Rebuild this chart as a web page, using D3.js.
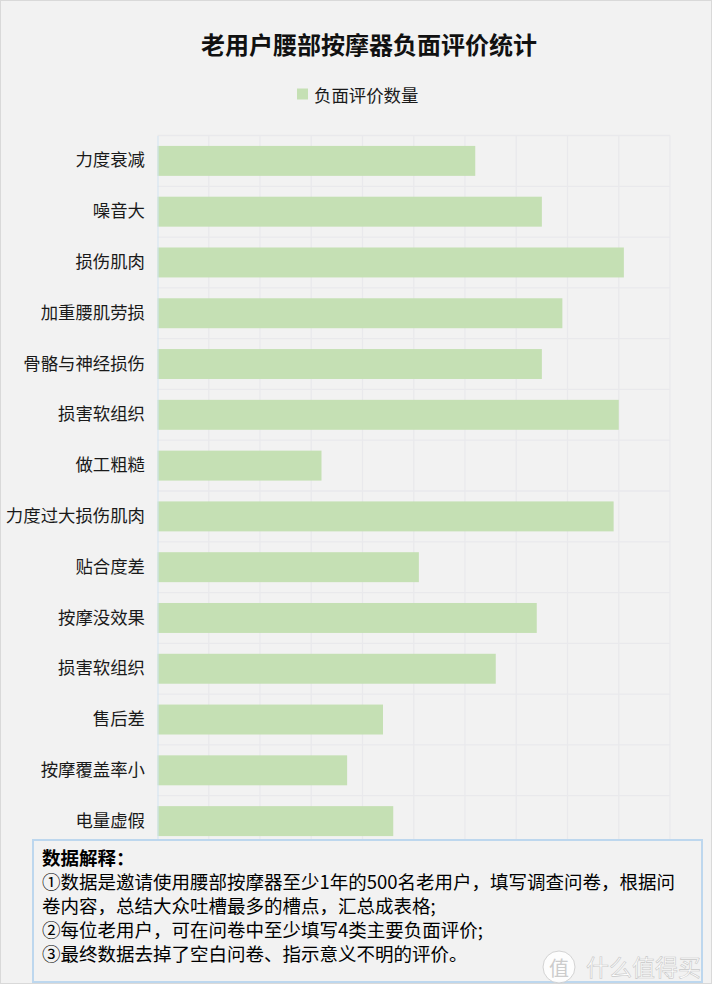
<!DOCTYPE html>
<html lang="zh">
<head>
  <meta charset="UTF-8">
  <title>老用户腰部按摩器负面评价统计</title>
  <style>
    html, body {
      margin: 0;
      padding: 0;
      overflow: hidden;
      width: 100%;
      height: 100%;
      background: #fff;
    }
    svg {
      position: absolute;
      top: 0;
      left: 0;
      font-family: "Noto Sans CJK SC", "Noto Sans", sans-serif;
    }
  </style>
</head>
<body>
  <svg width="713" height="992"></svg>
</body>
<script src="https://d3js.org/d3.v7.min.js"></script>
<script type="text/javascript">
  const categories = ['力度衰减', '噪音大', '损伤肌肉', '加重腰肌劳损', '骨骼与神经损伤', '损害软组织',
    '做工粗糙', '力度过大损伤肌肉', '贴合度差', '按摩没效果', '损害软组织', '售后差', '按摩覆盖率小', '电量虚假']
  const counts = [310, 375, 455, 395, 375, 450, 160, 445, 255, 370, 330, 220, 185, 230]
  const xTicks = [0, 50, 100, 150, 200, 250, 300, 350, 400, 450, 500]
  const seriesName = '负面评价数量'
  const title = '老用户腰部按摩器负面评价统计'
  const notes = [
    '数据解释：',
    '①数据是邀请使用腰部按摩器至少1年的500名老用户，填写调查问卷，根据问',
    '卷内容，总结大众吐槽最多的槽点，汇总成表格;',
    '②每位老用户，可在问卷中至少填写4类主要负面评价;',
    '③最终数据去掉了空白问卷、指示意义不明的评价。'
  ]

  // index keys because 损害软组织 appears twice
  const data = categories.map((c, i) => ({ key: i, name: c, value: counts[i] }))

  const svg = d3.select('svg')

  // chart area background
  svg.append('rect')
    .attr('x', 0.5).attr('y', 0.5)
    .attr('width', 711).attr('height', 983)
    .attr('fill', '#f2f2f2')
    .attr('stroke', '#d9d9d9')

  const plot = { left: 157.5, right: 670, top: 135.5, bottom: 846.5 }

  const x = d3.scaleLinear().domain([0, 500]).range([plot.left, plot.right])
  const y = d3.scaleBand()
    .domain(data.map(d => d.key))
    .range([plot.top, plot.bottom])
    .paddingInner(0.41)
    .paddingOuter(0.205)

  // vertical grid
  svg.append('g')
    .selectAll('line')
    .data(xTicks.slice(1))
    .enter().append('line')
      .attr('x1', d => x(d)).attr('x2', d => x(d))
      .attr('y1', plot.top).attr('y2', plot.bottom)
      .attr('stroke', '#e9e9ec')
      .attr('stroke-width', 1.3)

  // horizontal grid on band edges
  const step = y.step()
  svg.append('g')
    .selectAll('line')
    .data(d3.range(categories.length + 1))
    .enter().append('line')
      .attr('x1', plot.left).attr('x2', plot.right)
      .attr('y1', i => plot.top + i * step).attr('y2', i => plot.top + i * step)
      .attr('stroke', '#e9e9ec')
      .attr('stroke-width', 1.3)

  // bars
  svg.append('g')
    .selectAll('rect')
    .data(data)
    .enter().append('rect')
      .attr('x', x(0))
      .attr('y', d => y(d.key))
      .attr('width', d => x(d.value) - x(0))
      .attr('height', y.bandwidth())
      .attr('fill', '#c5e0b4')

  // category axis
  const yAxis = svg.append('g')
    .attr('transform', `translate(${plot.left},0)`)
    .call(d3.axisLeft(y).tickSize(0).tickPadding(12.5).tickFormat(k => categories[k]))
  yAxis.select('.domain')
    .attr('stroke', '#d2e3f1')
    .attr('stroke-width', 1)
  yAxis.selectAll('text')
    .attr('font-family', '"Noto Sans CJK SC", sans-serif')
    .attr('font-size', 17.4)
    .attr('fill', '#1a1a1a')

  // title
  svg.append('text')
    .attr('x', 369).attr('y', 43)
    .attr('text-anchor', 'middle')
    .attr('dominant-baseline', 'central')
    .attr('font-size', 24)
    .attr('font-weight', 'bold')
    .attr('fill', '#111')
    .text(title)

  // legend
  svg.append('rect')
    .attr('x', 297).attr('y', 88.5)
    .attr('width', 11).attr('height', 11)
    .attr('fill', '#c5e0b4')
  svg.append('text')
    .attr('x', 314).attr('y', 94)
    .attr('dominant-baseline', 'central')
    .attr('font-size', 17.4)
    .attr('fill', '#1a1a1a')
    .text(seriesName)

  // notes box
  svg.append('rect')
    .attr('x', 33).attr('y', 840)
    .attr('width', 669).attr('height', 142)
    .attr('fill', '#f2f2f2')
    .attr('stroke', '#bdd7ee')
    .attr('stroke-width', 2)

  svg.append('g')
    .selectAll('text')
    .data(notes)
    .enter().append('text')
      .attr('x', 42)
      .attr('y', (d, i) => 857 + i * 24)
      .attr('dominant-baseline', 'central')
      .attr('font-size', 18.5)
      .attr('font-weight', (d, i) => i === 0 ? 'bold' : 'normal')
      .attr('fill', '#000')
      .text(d => d)

  // watermark
  const wm = svg.append('g').attr('opacity', 0.9)
  wm.append('circle')
    .attr('cx', 559).attr('cy', 967).attr('r', 16)
    .attr('fill', '#fff')
    .attr('stroke', '#d0d0d0')
  wm.append('text')
    .attr('x', 559).attr('y', 967)
    .attr('text-anchor', 'middle')
    .attr('dominant-baseline', 'central')
    .attr('font-size', 20)
    .attr('fill', '#c8c8c8')
    .text('值')
  wm.append('text')
    .attr('x', 586).attr('y', 966)
    .attr('dominant-baseline', 'central')
    .attr('font-size', 23)
    .attr('fill', '#fff')
    .attr('stroke', '#c4c4c4')
    .attr('stroke-width', 0.6)
    .text('什么值得买')
</script>
</html>
